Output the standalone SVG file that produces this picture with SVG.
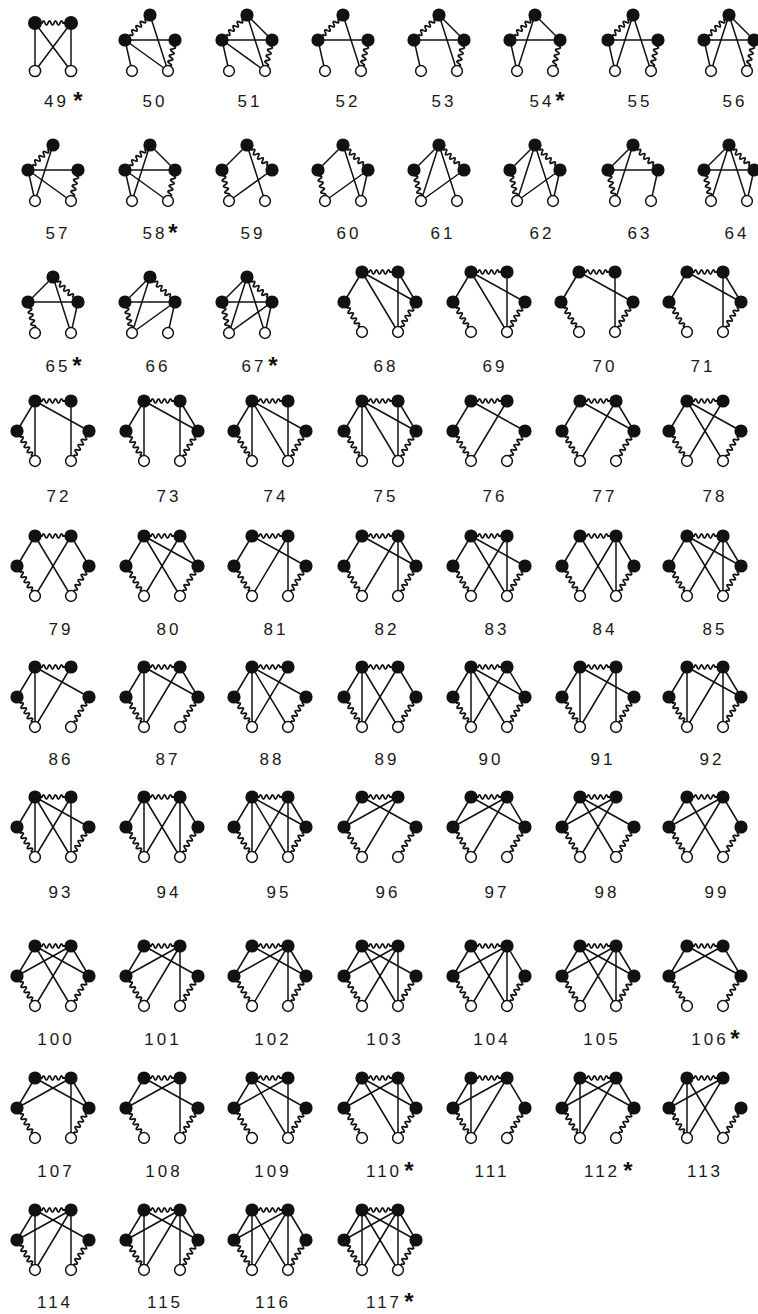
<svg xmlns="http://www.w3.org/2000/svg" xmlns:xlink="http://www.w3.org/1999/xlink" width="758" height="1314" viewBox="0 0 758 1314">
<style>
.e{stroke:#111;stroke-width:1.5;fill:none;stroke-linecap:round}
.nb{fill:#111}
.nw{fill:#fff;stroke:#111;stroke-width:1.5}
.lb{font-family:"Liberation Sans",Arial,sans-serif;font-size:17px;letter-spacing:3px;fill:#1a1a1a;text-anchor:middle}
.st{font-family:"Liberation Sans",Arial,sans-serif;font-size:24px;font-weight:bold;fill:#111;text-anchor:middle}
</style>
<defs>
<path id="w36" stroke-width="1.8" d="M0,0H7q1.5,-4.4 3,0t3,0t3,0t3,0t3,0t3,0t3,0H36"/>
<path id="w32" stroke-width="1.8" d="M0,0H6q1.5,-4.4 3,0t3,0t3,0t3,0t3,0t3,0t3,0H32"/>
<line id="pTL" x1="0" y1="0" x2="-25" y2="25"/>
<line id="pTR" x1="0" y1="0" x2="25" y2="25"/>
<line id="pTA" x1="0" y1="0" x2="-18" y2="56"/>
<line id="pTB" x1="0" y1="0" x2="18" y2="56"/>
<line id="pLR" x1="-25" y1="25" x2="25" y2="25"/>
<line id="pLA" x1="-25" y1="25" x2="-18" y2="56"/>
<line id="pLB" x1="-25" y1="25" x2="18" y2="56"/>
<line id="pRA" x1="25" y1="25" x2="-18" y2="56"/>
<line id="pRB" x1="25" y1="25" x2="18" y2="56"/>
<g id="pTLw" transform="rotate(135)"><use href="#w36"/></g>
<g id="pTRw" transform="rotate(45)"><use href="#w36"/></g>
<g id="pLAw" transform="translate(-25,25) rotate(77.3)"><use href="#w32"/></g>
<g id="pRBw" transform="translate(25,25) rotate(102.7)"><use href="#w32"/></g>
<g id="pN"><circle class="nb" cx="0" cy="0" r="6.6"/><circle class="nb" cx="-25" cy="25" r="6.6"/><circle class="nb" cx="25" cy="25" r="6.6"/><circle class="nw" cx="-18" cy="56" r="5.4"/><circle class="nw" cx="18" cy="56" r="5.4"/></g>
<line id="hPL" x1="-18" y1="0" x2="-36" y2="30"/>
<line id="hPA" x1="-18" y1="0" x2="-18" y2="60"/>
<line id="hPB" x1="-18" y1="0" x2="18" y2="60"/>
<line id="hPR" x1="-18" y1="0" x2="36" y2="30"/>
<line id="hQL" x1="18" y1="0" x2="-36" y2="30"/>
<line id="hQA" x1="18" y1="0" x2="-18" y2="60"/>
<line id="hQB" x1="18" y1="0" x2="18" y2="60"/>
<line id="hQR" x1="18" y1="0" x2="36" y2="30"/>
<g id="hPQw" transform="translate(-18,0)"><use href="#w36"/></g>
<g id="hLAw" transform="translate(-36,30) rotate(59.04)"><use href="#w36"/></g>
<g id="hRBw" transform="translate(36,30) rotate(120.96)"><use href="#w36"/></g>
<g id="hB"><use href="#hPQw"/><use href="#hPL"/><use href="#hLAw"/><use href="#hRBw"/></g>
<g id="hN"><circle class="nb" cx="-18" cy="0" r="6.6"/><circle class="nb" cx="18" cy="0" r="6.6"/><circle class="nb" cx="-36" cy="30" r="6.6"/><circle class="nb" cx="36" cy="30" r="6.6"/><circle class="nw" cx="-18" cy="60" r="5.4"/><circle class="nw" cx="18" cy="60" r="5.4"/></g>
</defs>
<rect width="758" height="1314" fill="#fff"/>

<g id="g49" transform="translate(53,23)"><g class="e"><use href="#hPQw"/><line x1="-18" y1="0" x2="-18" y2="48"/><line x1="18" y1="0" x2="18" y2="48"/><line x1="-18" y1="0" x2="18" y2="48"/><line x1="18" y1="0" x2="-18" y2="48"/></g><circle class="nb" cx="-18" cy="0" r="7"/><circle class="nb" cx="18" cy="0" r="7"/><circle class="nw" cx="-18" cy="48" r="5.6"/><circle class="nw" cx="18" cy="48" r="5.6"/><text class="lb" x="3.5" y="84">49</text><text class="st" x="25" y="86">*</text></g>
<g id="g50" transform="translate(150,15)"><g class="e"><use href="#pTLw"/><use href="#pTB"/><use href="#pLR"/><use href="#pLA"/><use href="#pLB"/><use href="#pRBw"/></g><use href="#pN"/><text class="lb" x="5" y="92">50</text></g>
<g id="g51" transform="translate(247,15)"><g class="e"><use href="#pTLw"/><use href="#pTR"/><use href="#pTB"/><use href="#pLR"/><use href="#pLA"/><use href="#pLB"/><use href="#pRBw"/></g><use href="#pN"/><text class="lb" x="3" y="92">51</text></g>
<g id="g52" transform="translate(343,15)"><g class="e"><use href="#pTLw"/><use href="#pTB"/><use href="#pLR"/><use href="#pLA"/><use href="#pRBw"/></g><use href="#pN"/><text class="lb" x="5" y="92">52</text></g>
<g id="g53" transform="translate(439,15)"><g class="e"><use href="#pTLw"/><use href="#pTR"/><use href="#pTB"/><use href="#pLR"/><use href="#pLA"/><use href="#pRBw"/></g><use href="#pN"/><text class="lb" x="5" y="92">53</text></g>
<g id="g54" transform="translate(535,15)"><g class="e"><use href="#pTLw"/><use href="#pTR"/><use href="#pTA"/><use href="#pLR"/><use href="#pLA"/><use href="#pRBw"/></g><use href="#pN"/><text class="lb" x="7" y="92">54</text><text class="st" x="25" y="94">*</text></g>
<g id="g55" transform="translate(633,15)"><g class="e"><use href="#pTLw"/><use href="#pTA"/><use href="#pTB"/><use href="#pLR"/><use href="#pLA"/><use href="#pRBw"/></g><use href="#pN"/><text class="lb" x="7" y="92">55</text></g>
<g id="g56" transform="translate(729,15)"><g class="e"><use href="#pTLw"/><use href="#pTR"/><use href="#pTA"/><use href="#pTB"/><use href="#pLR"/><use href="#pLA"/><use href="#pRBw"/></g><use href="#pN"/><text class="lb" x="6" y="92">56</text></g>

<g id="g57" transform="translate(53,145)"><g class="e"><use href="#pTLw"/><use href="#pTA"/><use href="#pLR"/><use href="#pLA"/><use href="#pLB"/><use href="#pRBw"/></g><use href="#pN"/><text class="lb" x="5" y="94">57</text></g>
<g id="g58" transform="translate(150,145)"><g class="e"><use href="#pTLw"/><use href="#pTR"/><use href="#pTA"/><use href="#pLR"/><use href="#pLA"/><use href="#pLB"/><use href="#pRBw"/></g><use href="#pN"/><text class="lb" x="5" y="94">58</text><text class="st" x="23" y="96">*</text></g>
<g id="g59" transform="translate(247,145)"><g class="e"><use href="#pTL"/><use href="#pTRw"/><use href="#pTB"/><use href="#pLAw"/><use href="#pRA"/></g><use href="#pN"/><text class="lb" x="6" y="94">59</text></g>
<g id="g60" transform="translate(343,145)"><g class="e"><use href="#pTL"/><use href="#pTRw"/><use href="#pTB"/><use href="#pLAw"/><use href="#pRA"/><use href="#pRB"/></g><use href="#pN"/><text class="lb" x="6" y="94">60</text></g>
<g id="g61" transform="translate(439,145)"><g class="e"><use href="#pTL"/><use href="#pTRw"/><use href="#pTA"/><use href="#pTB"/><use href="#pLAw"/><use href="#pRA"/></g><use href="#pN"/><text class="lb" x="4" y="94">61</text></g>
<g id="g62" transform="translate(535,145)"><g class="e"><use href="#pTL"/><use href="#pTRw"/><use href="#pTA"/><use href="#pTB"/><use href="#pLAw"/><use href="#pRA"/><use href="#pRB"/></g><use href="#pN"/><text class="lb" x="7" y="94">62</text></g>
<g id="g63" transform="translate(633,145)"><g class="e"><use href="#pTL"/><use href="#pTRw"/><use href="#pLR"/><use href="#pTA"/><use href="#pLAw"/><use href="#pRB"/></g><use href="#pN"/><text class="lb" x="7" y="94">63</text></g>
<g id="g64" transform="translate(729,145)"><g class="e"><use href="#pTL"/><use href="#pTRw"/><use href="#pLR"/><use href="#pTA"/><use href="#pTB"/><use href="#pLAw"/><use href="#pRB"/></g><use href="#pN"/><text class="lb" x="8" y="94">64</text></g>

<g id="g65" transform="translate(53,277)"><g class="e"><use href="#pTL"/><use href="#pTRw"/><use href="#pLR"/><use href="#pTB"/><use href="#pLAw"/><use href="#pRB"/></g><use href="#pN"/><text class="lb" x="5" y="95">65</text><text class="st" x="24" y="97">*</text></g>
<g id="g66" transform="translate(150,277)"><g class="e"><use href="#pTL"/><use href="#pTRw"/><use href="#pLR"/><use href="#pTA"/><use href="#pLAw"/><use href="#pRA"/><use href="#pRB"/></g><use href="#pN"/><text class="lb" x="8" y="95">66</text></g>
<g id="g67" transform="translate(247,277)"><g class="e"><use href="#pTL"/><use href="#pTRw"/><use href="#pLR"/><use href="#pTA"/><use href="#pTB"/><use href="#pLAw"/><use href="#pRA"/><use href="#pRB"/></g><use href="#pN"/><text class="lb" x="7" y="95">67</text><text class="st" x="26" y="97">*</text></g>
<g id="g68" transform="translate(380,272)"><g class="e"><use href="#hB"/><use href="#hPR"/><use href="#hPB"/><use href="#hQR"/><use href="#hQB"/></g><use href="#hN"/><text class="lb" x="6" y="100">68</text></g>
<g id="g69" transform="translate(489,272)"><g class="e"><use href="#hB"/><use href="#hPR"/><use href="#hPB"/><use href="#hQB"/></g><use href="#hN"/><text class="lb" x="6" y="100">69</text></g>
<g id="g70" transform="translate(597,272)"><g class="e"><use href="#hB"/><use href="#hPR"/><use href="#hQB"/></g><use href="#hN"/><text class="lb" x="8" y="100">70</text></g>
<g id="g71" transform="translate(705,272)"><g class="e"><use href="#hB"/><use href="#hPR"/><use href="#hQR"/><use href="#hQB"/></g><use href="#hN"/><text class="lb" x="-2" y="100">71</text></g>

<g id="g72" transform="translate(53,401)"><g class="e"><use href="#hB"/><use href="#hPA"/><use href="#hPR"/><use href="#hQB"/></g><use href="#hN"/><text class="lb" x="6" y="101">72</text></g>
<g id="g73" transform="translate(162,401)"><g class="e"><use href="#hB"/><use href="#hPA"/><use href="#hPR"/><use href="#hQB"/><use href="#hQR"/></g><use href="#hN"/><text class="lb" x="7" y="101">73</text></g>
<g id="g74" transform="translate(270,401)"><g class="e"><use href="#hB"/><use href="#hPA"/><use href="#hPB"/><use href="#hPR"/><use href="#hQB"/></g><use href="#hN"/><text class="lb" x="6" y="101">74</text></g>
<g id="g75" transform="translate(380,401)"><g class="e"><use href="#hB"/><use href="#hPA"/><use href="#hPB"/><use href="#hPR"/><use href="#hQB"/><use href="#hQR"/></g><use href="#hN"/><text class="lb" x="6" y="101">75</text></g>
<g id="g76" transform="translate(489,401)"><g class="e"><use href="#hB"/><use href="#hPR"/><use href="#hQA"/></g><use href="#hN"/><text class="lb" x="6" y="101">76</text></g>
<g id="g77" transform="translate(598,401)"><g class="e"><use href="#hB"/><use href="#hPR"/><use href="#hQA"/><use href="#hQR"/></g><use href="#hN"/><text class="lb" x="7" y="101">77</text></g>
<g id="g78" transform="translate(705,401)"><g class="e"><use href="#hB"/><use href="#hPR"/><use href="#hPB"/><use href="#hQA"/></g><use href="#hN"/><text class="lb" x="10" y="101">78</text></g>

<g id="g79" transform="translate(53,536)"><g class="e"><use href="#hB"/><use href="#hQR"/><use href="#hPB"/><use href="#hQA"/></g><use href="#hN"/><text class="lb" x="8" y="99">79</text></g>
<g id="g80" transform="translate(162,536)"><g class="e"><use href="#hB"/><use href="#hQR"/><use href="#hPB"/><use href="#hQA"/><use href="#hPR"/></g><use href="#hN"/><text class="lb" x="7" y="99">80</text></g>
<g id="g81" transform="translate(270,536)"><g class="e"><use href="#hB"/><use href="#hPR"/><use href="#hQA"/><use href="#hQB"/></g><use href="#hN"/><text class="lb" x="6" y="99">81</text></g>
<g id="g82" transform="translate(380,536)"><g class="e"><use href="#hB"/><use href="#hPR"/><use href="#hQA"/><use href="#hQB"/><use href="#hQR"/></g><use href="#hN"/><text class="lb" x="7" y="99">82</text></g>
<g id="g83" transform="translate(489,536)"><g class="e"><use href="#hB"/><use href="#hPR"/><use href="#hPB"/><use href="#hQA"/><use href="#hQB"/></g><use href="#hN"/><text class="lb" x="8" y="99">83</text></g>
<g id="g84" transform="translate(598,536)"><g class="e"><use href="#hB"/><use href="#hQR"/><use href="#hPB"/><use href="#hQA"/><use href="#hQB"/></g><use href="#hN"/><text class="lb" x="7" y="99">84</text></g>
<g id="g85" transform="translate(705,536)"><g class="e"><use href="#hB"/><use href="#hPR"/><use href="#hPB"/><use href="#hQA"/><use href="#hQB"/><use href="#hQR"/></g><use href="#hN"/><text class="lb" x="10" y="99">85</text></g>

<g id="g86" transform="translate(53,667)"><g class="e"><use href="#hB"/><use href="#hPA"/><use href="#hPR"/><use href="#hQA"/></g><use href="#hN"/><text class="lb" x="8" y="98">86</text></g>
<g id="g87" transform="translate(162,667)"><g class="e"><use href="#hB"/><use href="#hPA"/><use href="#hPR"/><use href="#hQA"/><use href="#hQR"/></g><use href="#hN"/><text class="lb" x="6" y="98">87</text></g>
<g id="g88" transform="translate(270,667)"><g class="e"><use href="#hB"/><use href="#hPA"/><use href="#hPR"/><use href="#hPB"/><use href="#hQA"/></g><use href="#hN"/><text class="lb" x="2" y="98">88</text></g>
<g id="g89" transform="translate(380,667)"><g class="e"><use href="#hB"/><use href="#hPA"/><use href="#hPB"/><use href="#hQA"/><use href="#hQR"/></g><use href="#hN"/><text class="lb" x="7" y="98">89</text></g>
<g id="g90" transform="translate(489,667)"><g class="e"><use href="#hB"/><use href="#hPA"/><use href="#hPB"/><use href="#hPR"/><use href="#hQA"/><use href="#hQR"/></g><use href="#hN"/><text class="lb" x="2" y="98">90</text></g>
<g id="g91" transform="translate(598,667)"><g class="e"><use href="#hB"/><use href="#hPA"/><use href="#hPR"/><use href="#hQA"/><use href="#hQB"/></g><use href="#hN"/><text class="lb" x="5" y="98">91</text></g>
<g id="g92" transform="translate(705,667)"><g class="e"><use href="#hB"/><use href="#hPA"/><use href="#hPR"/><use href="#hQA"/><use href="#hQB"/><use href="#hQR"/></g><use href="#hN"/><text class="lb" x="7" y="98">92</text></g>

<g id="g93" transform="translate(53,797)"><g class="e"><use href="#hB"/><use href="#hPA"/><use href="#hPB"/><use href="#hPR"/><use href="#hQA"/><use href="#hQB"/></g><use href="#hN"/><text class="lb" x="8" y="101">93</text></g>
<g id="g94" transform="translate(162,797)"><g class="e"><use href="#hB"/><use href="#hPA"/><use href="#hPB"/><use href="#hQA"/><use href="#hQB"/><use href="#hQR"/></g><use href="#hN"/><text class="lb" x="7" y="101">94</text></g>
<g id="g95" transform="translate(270,797)"><g class="e"><use href="#hB"/><use href="#hPA"/><use href="#hPB"/><use href="#hPR"/><use href="#hQA"/><use href="#hQB"/><use href="#hQR"/></g><use href="#hN"/><text class="lb" x="9" y="101">95</text></g>
<g id="g96" transform="translate(380,797)"><g class="e"><use href="#hB"/><use href="#hQL"/><use href="#hPR"/><use href="#hQA"/></g><use href="#hN"/><text class="lb" x="8" y="101">96</text></g>
<g id="g97" transform="translate(489,797)"><g class="e"><use href="#hB"/><use href="#hQL"/><use href="#hPR"/><use href="#hQA"/><use href="#hQR"/></g><use href="#hN"/><text class="lb" x="8" y="101">97</text></g>
<g id="g98" transform="translate(598,797)"><g class="e"><use href="#hB"/><use href="#hQL"/><use href="#hPR"/><use href="#hPB"/><use href="#hQA"/></g><use href="#hN"/><text class="lb" x="9" y="101">98</text></g>
<g id="g99" transform="translate(705,797)"><g class="e"><use href="#hB"/><use href="#hQL"/><use href="#hPB"/><use href="#hQA"/><use href="#hQR"/></g><use href="#hN"/><text class="lb" x="12" y="101">99</text></g>

<g id="g100" transform="translate(53,946)"><g class="e"><use href="#hB"/><use href="#hQL"/><use href="#hPR"/><use href="#hPB"/><use href="#hQA"/><use href="#hQR"/></g><use href="#hN"/><text class="lb" x="3" y="99">100</text></g>
<g id="g101" transform="translate(162,946)"><g class="e"><use href="#hB"/><use href="#hQL"/><use href="#hPR"/><use href="#hQA"/><use href="#hQB"/></g><use href="#hN"/><text class="lb" x="1" y="99">101</text></g>
<g id="g102" transform="translate(270,946)"><g class="e"><use href="#hB"/><use href="#hQL"/><use href="#hPR"/><use href="#hQA"/><use href="#hQB"/><use href="#hQR"/></g><use href="#hN"/><text class="lb" x="3" y="99">102</text></g>
<g id="g103" transform="translate(380,946)"><g class="e"><use href="#hB"/><use href="#hQL"/><use href="#hPR"/><use href="#hPB"/><use href="#hQA"/><use href="#hQB"/></g><use href="#hN"/><text class="lb" x="5" y="99">103</text></g>
<g id="g104" transform="translate(489,946)"><g class="e"><use href="#hB"/><use href="#hQL"/><use href="#hPB"/><use href="#hQA"/><use href="#hQB"/><use href="#hQR"/></g><use href="#hN"/><text class="lb" x="3" y="99">104</text></g>
<g id="g105" transform="translate(598,946)"><g class="e"><use href="#hB"/><use href="#hQL"/><use href="#hPB"/><use href="#hPR"/><use href="#hQA"/><use href="#hQB"/><use href="#hQR"/></g><use href="#hN"/><text class="lb" x="4" y="99">105</text></g>
<g id="g106" transform="translate(705,946)"><g class="e"><use href="#hB"/><use href="#hQL"/><use href="#hPR"/><use href="#hQR"/></g><use href="#hN"/><text class="lb" x="5" y="99">106</text><text class="st" x="30" y="101">*</text></g>

<g id="g107" transform="translate(53,1078)"><g class="e"><use href="#hB"/><use href="#hQL"/><use href="#hPR"/><use href="#hQB"/><use href="#hQR"/></g><use href="#hN"/><text class="lb" x="3" y="99">107</text></g>
<g id="g108" transform="translate(162,1078)"><g class="e"><use href="#hB"/><use href="#hQL"/><use href="#hPR"/><use href="#hQB"/></g><use href="#hN"/><text class="lb" x="2" y="99">108</text></g>
<g id="g109" transform="translate(270,1078)"><g class="e"><use href="#hB"/><use href="#hQL"/><use href="#hPR"/><use href="#hPB"/><use href="#hQB"/></g><use href="#hN"/><text class="lb" x="3" y="99">109</text></g>
<g id="g110" transform="translate(380,1078)"><g class="e"><use href="#hB"/><use href="#hQL"/><use href="#hPR"/><use href="#hPB"/><use href="#hQB"/><use href="#hQR"/></g><use href="#hN"/><text class="lb" x="4" y="99">110</text><text class="st" x="29" y="101">*</text></g>
<g id="g111" transform="translate(489,1078)"><g class="e"><use href="#hB"/><use href="#hQL"/><use href="#hPA"/><use href="#hQA"/><use href="#hQR"/></g><use href="#hN"/><text class="lb" x="3" y="99">111</text></g>
<g id="g112" transform="translate(598,1078)"><g class="e"><use href="#hB"/><use href="#hQL"/><use href="#hPA"/><use href="#hPR"/><use href="#hQA"/><use href="#hQR"/></g><use href="#hN"/><text class="lb" x="4" y="99">112</text><text class="st" x="30" y="101">*</text></g>
<g id="g113" transform="translate(705,1078)"><g class="e"><use href="#hB"/><use href="#hQL"/><use href="#hPA"/><use href="#hPB"/><use href="#hQA"/></g><use href="#hN"/><text class="lb" x="0" y="99">113</text></g>

<g id="g114" transform="translate(53,1210)"><g class="e"><use href="#hB"/><use href="#hPA"/><use href="#hPR"/><use href="#hQL"/><use href="#hQA"/><use href="#hQB"/></g><use href="#hN"/><text class="lb" x="2" y="98">114</text></g>
<g id="g115" transform="translate(162,1210)"><g class="e"><use href="#hB"/><use href="#hPA"/><use href="#hPR"/><use href="#hQL"/><use href="#hQA"/><use href="#hQB"/><use href="#hQR"/></g><use href="#hN"/><text class="lb" x="3" y="98">115</text></g>
<g id="g116" transform="translate(270,1210)"><g class="e"><use href="#hB"/><use href="#hPA"/><use href="#hPB"/><use href="#hQL"/><use href="#hQA"/><use href="#hQB"/><use href="#hQR"/></g><use href="#hN"/><text class="lb" x="3" y="98">116</text></g>
<g id="g117" transform="translate(380,1210)"><g class="e"><use href="#hB"/><use href="#hPA"/><use href="#hPR"/><use href="#hPB"/><use href="#hQL"/><use href="#hQA"/><use href="#hQB"/><use href="#hQR"/></g><use href="#hN"/><text class="lb" x="4" y="98">117</text><text class="st" x="29" y="100">*</text></g>
</svg>
